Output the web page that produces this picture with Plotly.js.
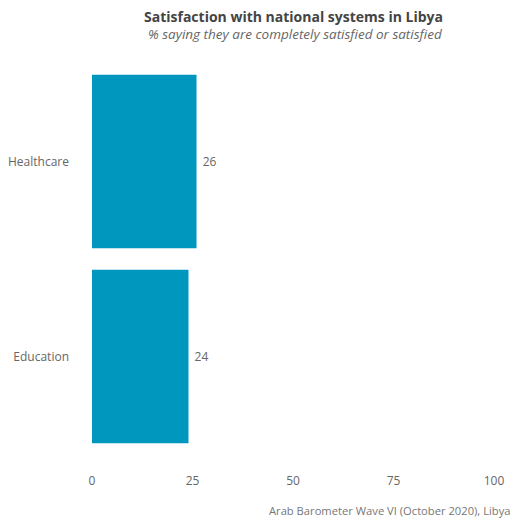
<!DOCTYPE html>
<html>
<head>
<meta charset="utf-8">
<script src="https://cdn.plot.ly/plotly-3.0.1.min.js"></script>
<style>html,body{margin:0;padding:0;background:#fff;}#chart{width:513px;height:519px;}</style>
</head>
<body>
<div id="chart"></div>
<script>
var categories = ['Education', 'Healthcare'];
var values = [24, 26];
var xTicks = [0, 25, 50, 75, 100];

var FONT = 'Open Sans, Lato, sans-serif';
var data = [{
  type: 'bar',
  orientation: 'h',
  y: categories,
  x: values,
  marker: {color: '#0097BF'},
  text: values.map(function (v) { return '\u00a0' + v; }),
  textposition: 'outside',
  textfont: {family: FONT, size: 12, color: '#666'},
  cliponaxis: false,
  hoverinfo: 'none'
}];

var layout = {
  width: 513, height: 519,
  margin: {l: 92, r: 19, t: 64, b: 65},
  paper_bgcolor: '#fff', plot_bgcolor: '#fff',
  bargap: 0.11,
  showlegend: false,
  font: {family: FONT, color: '#555'},
  xaxis: {
    range: [0, 100],
    tickvals: xTicks,
    ticktext: xTicks.map(String),
    showgrid: false, zeroline: false, showline: false,
    ticks: '',
    tickfont: {family: FONT, size: 12, color: '#666'},
    ticklabelstandoff: 18
  },
  yaxis: {
    range: [-0.5, 1.5],
    showgrid: false, zeroline: false, showline: false,
    ticks: '',
    tickfont: {family: FONT, size: 12, color: '#666'},
    ticklabelstandoff: 22
  },
  annotations: [{
    text: '<b>Satisfaction with national systems in Libya</b>',
    xref: 'paper', yref: 'paper', x: 0.5, y: 1.123,
    xanchor: 'center', yanchor: 'middle', showarrow: false,
    font: {family: FONT, size: 14, color: '#444'}
  }, {
    text: '<i>% saying they are completely satisfied or satisfied</i>',
    xref: 'paper', yref: 'paper', x: 0.505, y: 1.076,
    xanchor: 'center', yanchor: 'middle', showarrow: false,
    font: {family: FONT, size: 13.5, color: '#666'}
  }, {
    text: 'Arab Barometer Wave VI (October 2020), Libya',
    xref: 'paper', yref: 'paper',
    x: 1.045, y: -0.145, xanchor: 'right', yanchor: 'middle',
    showarrow: false,
    font: {family: FONT, size: 11.2, color: '#777'}
  }]
};

Plotly.newPlot('chart', data, layout, {staticPlot: true, displayModeBar: false});
</script>
</body>
</html>
